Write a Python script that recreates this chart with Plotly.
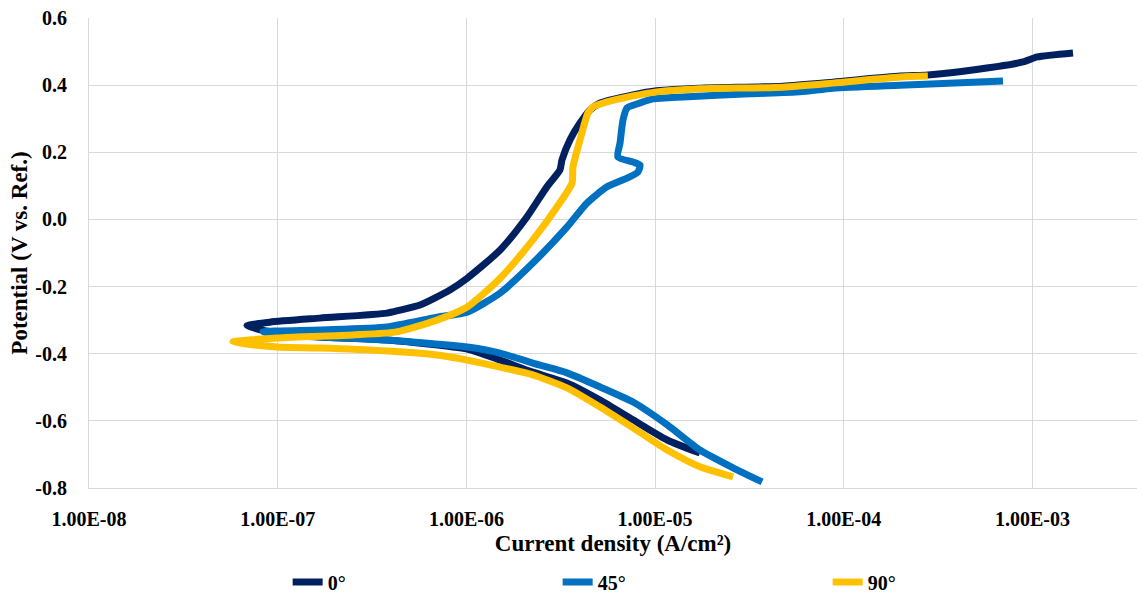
import plotly.graph_objects as go

# ---- data (current density A/cm², potential V) ----
x_0 = [1.73e-5, 1.16e-5, 7.64e-6, 5.11e-6, 3.41e-6, 2.25e-6, 1.51e-6, 1.01e-6, 3.79e-7, 1.67e-7, 9.9e-8, 6.87e-8,
       9.09e-8, 1.67e-7, 3.79e-7, 4.45e-7, 5.68e-7, 8.18e-7, 1.01e-6, 1.51e-6, 2.09e-6, 2.67e-6, 3.13e-6, 3.21e-6,
       3.54e-6, 4.00e-6, 4.52e-6, 5.11e-6, 7.64e-6, 1.02e-5, 1.73e-5, 4.76e-5, 8.77e-5, 1.99e-4, 2.79e-4, 5.27e-4,
       8.91e-4, 1.06e-3, 1.64e-3]
y_0 = [-0.696, -0.657, -0.597, -0.538, -0.487, -0.455, -0.419, -0.386, -0.359, -0.350, -0.338, -0.317,
       -0.306, -0.294, -0.279, -0.270, -0.255, -0.210, -0.175, -0.091, 0.007, 0.097, 0.147, 0.177,
       0.237, 0.287, 0.326, 0.347, 0.371, 0.383, 0.391, 0.397, 0.409, 0.427, 0.430, 0.448,
       0.469, 0.484, 0.496]

x_45 = [3.69e-5, 2.59e-5, 1.73e-5, 1.16e-5, 7.64e-6, 5.11e-6, 3.41e-6, 2.25e-6, 1.51e-6, 1.01e-6, 3.79e-7, 1.67e-7,
        9.9e-8, 8.36e-8,
        1.67e-7, 3.79e-7, 6.98e-7, 1.01e-6, 1.51e-6, 2.25e-6, 3.41e-6, 4.36e-6, 5.56e-6, 7.10e-6, 8.11e-6, 8.32e-6,
        7.64e-6, 6.35e-6, 6.52e-6, 6.76e-6, 7.10e-6, 8.32e-6, 9.75e-6, 1.41e-5, 3.18e-5, 5.86e-5, 8.77e-5, 1.99e-4,
        6.98e-4]
y_45 = [-0.782, -0.740, -0.687, -0.612, -0.544, -0.499, -0.457, -0.428, -0.398, -0.380, -0.359, -0.350,
        -0.344, -0.335,
        -0.329, -0.320, -0.291, -0.276, -0.219, -0.130, -0.023, 0.049, 0.097, 0.123, 0.141, 0.162,
        0.171, 0.186, 0.228, 0.296, 0.332, 0.347, 0.359, 0.365, 0.374, 0.380, 0.391, 0.400,
        0.412]

x_90 = [2.59e-5, 1.73e-5, 1.16e-5, 7.64e-6, 5.11e-6, 3.41e-6, 2.25e-6, 1.51e-6, 1.01e-6, 6.98e-7, 3.79e-7, 1.67e-7,
        9.9e-8, 5.79e-8,
        9.9e-8, 2.51e-7, 4.28e-7, 6.98e-7, 1.01e-6, 1.51e-6, 2.25e-6, 3.02e-6, 3.63e-6, 3.67e-6, 4.00e-6, 4.41e-6,
        4.69e-6, 5.56e-6, 7.64e-6, 1.02e-5, 1.73e-5, 4.76e-5, 8.77e-5, 1.99e-4, 2.79e-4]
y_90 = [-0.767, -0.737, -0.687, -0.621, -0.559, -0.502, -0.463, -0.440, -0.419, -0.404, -0.392, -0.383,
        -0.380, -0.365,
        -0.353, -0.344, -0.335, -0.300, -0.261, -0.175, -0.061, 0.037, 0.108, 0.156, 0.237, 0.317,
        0.335, 0.350, 0.368, 0.380, 0.389, 0.394, 0.406, 0.424, 0.427]

series_names = ["0°", "45°", "90°"]
series_colors = ["#002060", "#0070C0", "#FFC000"]

x_tickvals = [1e-8, 1e-7, 1e-6, 1e-5, 1e-4, 1e-3]
x_ticktext = ["1.00E-08", "1.00E-07", "1.00E-06", "1.00E-05", "1.00E-04", "1.00E-03"]
y_tickvals = [-0.8, -0.6, -0.4, -0.2, 0.0, 0.2, 0.4, 0.6]
y_ticktext = ["-0.8", "-0.6", "-0.4", "-0.2", "0.0", "0.2", "0.4", "0.6"]

fig = go.Figure()
for xs, ys, name, color in zip([x_0, x_45, x_90], [y_0, y_45, y_90], series_names, series_colors):
    fig.add_trace(go.Scatter(x=xs, y=ys, mode="lines", name=name,
                             line=dict(color=color, width=7, shape="spline", smoothing=0.6)))

grid = "#d9d9d9"
fig.update_layout(
    width=1137, height=594,
    margin=dict(l=89, r=0, t=18, b=106, autoexpand=False),
    paper_bgcolor="white", plot_bgcolor="white",
    font=dict(family="Liberation Serif", size=20, color="black", weight="bold"),
    xaxis=dict(type="log", range=[-8, -2.446], tickvals=x_tickvals, ticktext=x_ticktext,
               showgrid=True, gridcolor=grid, gridwidth=1, showline=True, linecolor=grid, linewidth=1,
               zeroline=False, ticks="", ticklabelstandoff=13, automargin=False,
               title=dict(text="Current density (A/cm²)", font=dict(size=23), standoff=5)),
    yaxis=dict(range=[-0.8, 0.6], tickvals=y_tickvals, ticktext=y_ticktext,
               showgrid=True, gridcolor=grid, gridwidth=1, showline=True, linecolor=grid, linewidth=1,
               zeroline=False, ticks="", ticklabelstandoff=17, automargin=False,
               title=dict(text="Potential (V vs. Ref.)", font=dict(size=23), standoff=1)),
    legend=dict(orientation="h", xref="container", yref="container", x=0.253, y=0.02,
                xanchor="left", yanchor="middle", entrywidth=225, entrywidthmode="pixels",
                font=dict(size=20), itemwidth=30, bgcolor="rgba(0,0,0,0)"),
    showlegend=True,
)

fig.write_html("out.html", config={"displayModeBar": False},
               post_script="document.body.style.margin='0';document.body.style.overflow='hidden';")
